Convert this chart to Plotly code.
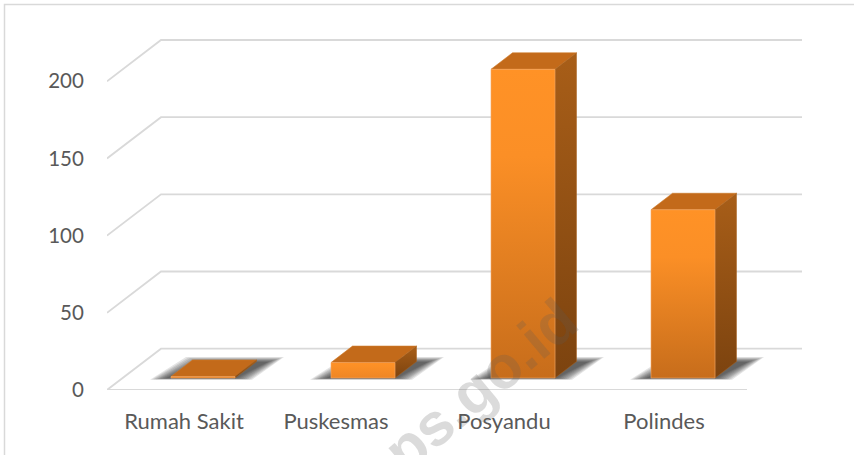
import plotly.graph_objects as go

categories = ["Rumah Sakit", "Puskesmas", "Posyandu", "Polindes"]
values = [1, 10, 200, 109]
y_ticks = [0, 50, 100, 150, 200]

# ---- layout constants (pixels) ----
W, H = 854, 455
LEFT, BOTTOM_Y, RIGHT = 107, 390, 854
Y_SCALE = 1.5435       # px per value unit
X_SCALE = 160          # px per category
CAT0_X = 203           # pixel centre of first bar's front face
def xu(px): return px / X_SCALE
def yu(px): return px / Y_SCALE
x_lo = xu(LEFT - CAT0_X)
x_hi = xu(RIGHT - CAT0_X)
y_lo = 0
y_hi = yu(BOTTOM_Y)
def px_to_x(px): return xu(px - CAT0_X)

half = xu(32)
bar_dx, bar_dy = xu(21.5), yu(16.5)
base = yu(12)
wall_dx, wall_dy = xu(54), yu(41.3)
front_l, front_r = px_to_x(107), px_to_x(747)
back_l, back_r = front_l + wall_dx, px_to_x(802)
label_shift = [-19, -27, -19, -19]
front_bottom = ["#e07c20", "#ee8625", "#c76d1b", "#c76d1b"]

fig = go.Figure()

# wall and floor gridlines
for v in y_ticks:
    xs = [front_l, back_l, back_r]
    ys = [v, v + wall_dy, v + wall_dy]
    if v == 0:
        xs = [front_r, front_l, back_l, back_r]
        ys = [0, 0, wall_dy, wall_dy]
    fig.add_trace(go.Scatter(x=xs, y=ys, mode="lines", cliponaxis=False,
                             line=dict(color="#d9d9d9", width=1.8), hoverinfo="skip"))

# soft floor shadows: nested parallelograms
shadow_layers = [(g, 0.12) for g in (13, 11, 9, 7, 5, 3, 1, -1, -3)]
for i, cat in enumerate(categories):
    for grow, alpha in shadow_layers:
        g = xu(grow)
        gy = yu(grow * 0.3)
        bl = i - half - xu(8) - g
        br = i + half + xu(4) + g
        sx = xu(32)
        top = base + yu(17) + gy
        bot = base - yu(0.5) - gy * 0.3
        fig.add_trace(go.Scatter(
            x=[bl, br, br + sx, bl + sx + xu(4), bl],
            y=[bot, bot, top, top, bot],
            mode="lines", fill="toself", line=dict(width=0),
            fillcolor=f"rgba(30,30,30,{alpha})", hoverinfo="skip"))

# bars: top, side, front faces
for i, cat in enumerate(categories):
    l, r = i - half, i + half
    b, t = base, base + values[i]
    fig.add_trace(go.Scatter(
        x=[l, r, r + bar_dx, l + bar_dx, l], y=[t, t, t + bar_dy, t + bar_dy, t],
        mode="lines", fill="toself", fillcolor="#c36a1a",
        line=dict(color="#cf7a2a", width=0.6), hoverinfo="skip"))
    fig.add_trace(go.Scatter(
        x=[r, r + bar_dx, r + bar_dx, r, r], y=[b, b + bar_dy, t + bar_dy, t, b],
        mode="lines", fill="toself",
        fillgradient=dict(type="vertical", colorscale=[[0, "#7c430f"], [1, "#a85e18"]]),
        line=dict(color="#a8601c", width=0.5), hoverinfo="skip"))
    fig.add_trace(go.Scatter(
        x=[l, r, r, l, l], y=[b, b, t, t, b],
        mode="lines", fill="toself", name=cat,
        fillgradient=dict(type="vertical",
                          colorscale=[[0, front_bottom[i]], [0.72, "#fb8f26"], [1, "#ff9226"]]),
        line=dict(color="#f3a868", width=0.6),
        hovertemplate=f"{cat}: {values[i]}<extra></extra>"))

# watermark
fig.add_annotation(text="<b>bps.go.id</b>", xref="paper", yref="paper",
                   x=(466 - LEFT) / (RIGHT - LEFT), y=(BOTTOM_Y - 397) / BOTTOM_Y,
                   xanchor="center", yanchor="middle", showarrow=False, textangle=-40,
                   font=dict(family="Liberation Sans", size=60, color="rgba(90,90,90,0.22)"))

# outer chart border
fig.add_shape(type="rect", xref="paper", yref="paper", layer="below",
              x0=(4.5 - LEFT) / (RIGHT - LEFT), x1=(870 - LEFT) / (RIGHT - LEFT),
              y0=(BOTTOM_Y - 480) / BOTTOM_Y, y1=(BOTTOM_Y - 4.5) / BOTTOM_Y,
              line=dict(color="#d9d9d9", width=1.5))

font_y = dict(family="Lato", size=20.5, color="#595959")
font_x = dict(family="Lato", size=22, color="#595959")
fig.update_layout(
    width=W, height=H, autosize=False,
    margin=dict(l=LEFT, r=0, t=0, b=H - BOTTOM_Y),
    paper_bgcolor="white", plot_bgcolor="rgba(0,0,0,0)",
    showlegend=False, hovermode="closest",
    xaxis=dict(range=[x_lo, x_hi], tickmode="array",
               tickvals=[i + xu(s) for i, s in enumerate(label_shift)],
               ticktext=categories, ticks="outside", ticklen=12,
               tickcolor="rgba(0,0,0,0)", showgrid=False, zeroline=False, showline=False,
               tickfont=font_x),
    yaxis=dict(range=[y_lo, y_hi], tickmode="array", tickvals=y_ticks,
               ticktext=[str(v) for v in y_ticks], ticks="outside", ticklen=18,
               tickcolor="rgba(0,0,0,0)", showgrid=False, zeroline=False, showline=False,
               tickfont=font_y),
)
fig.write_html("out.html", config={"displayModeBar": False},
               post_script="document.body.style.margin='0';document.body.style.overflow='hidden';")
